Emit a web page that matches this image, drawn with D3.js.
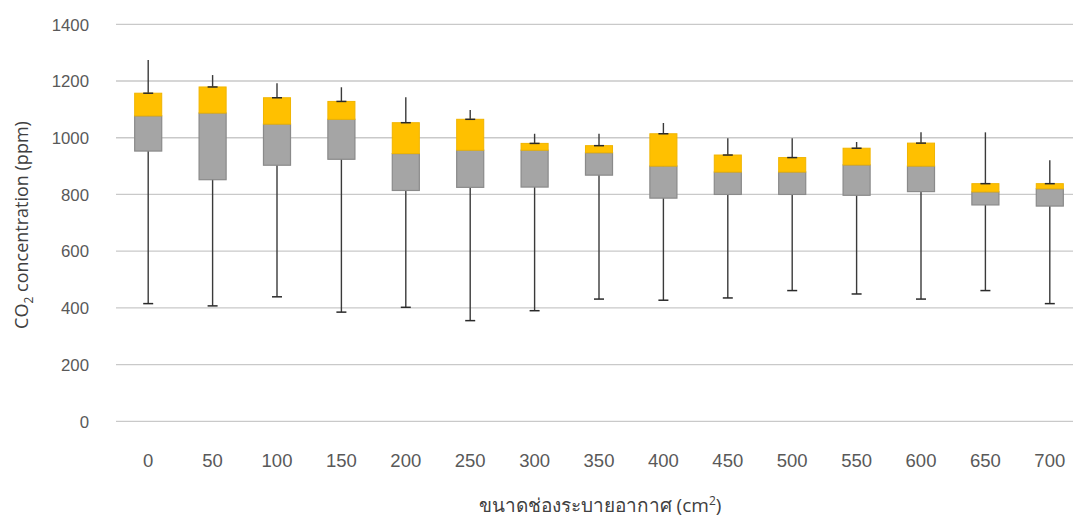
<!DOCTYPE html>
<html><head><meta charset="utf-8">
<script src="https://cdn.jsdelivr.net/npm/d3@7"></script>
<style>body{margin:0;background:#fff}svg{display:block;font-family:"Open Sans","Noto Sans",sans-serif}</style>
</head><body><svg id="c" width="1073" height="520"></svg>
<script>
const categories = ["0","50","100","150","200","250","300","350","400","450","500","550","600","650","700"];
const minVals = [415,407,439,385,402,355,390,431,427,435,461,449,431,461,415];
const q1Vals  = [953,852,903,924,814,825,826,868,787,800,800,797,810,763,759];
const medVals = [1077,1087,1048,1065,944,956,956,947,900,879,879,904,900,809,820];
const q3Vals  = [1157,1179,1141,1128,1053,1065,980,972,1014,939,930,963,981,838,838];
const maxVals = [1274,1221,1192,1178,1143,1098,1014,1014,1052,998,998,985,1019,1019,921];
const yTicks = [0,200,400,600,800,1000,1200,1400];

const svg = d3.select("#c");
const left = 116, bandW = 64.4;
const x = d3.scaleBand().domain(categories).range([left, left + bandW*categories.length]).paddingInner(0.58).paddingOuter(0.29);
const y = d3.scaleLinear().domain([0,1400]).range([421.3, 24.3]);

svg.append("g").selectAll("line").data(yTicks).join("line")
  .attr("x1", left).attr("x2", 1073)
  .attr("y1", d=>y(d)).attr("y2", d=>y(d))
  .attr("stroke", "#c9c9c9").attr("stroke-width", 1.3);

const yAxis = d3.axisLeft(y).tickValues(yTicks).tickFormat(d3.format("d")).tickSize(0).tickPadding(0);
const yg = svg.append("g").attr("transform", "translate(89,0)").call(yAxis);
yg.select(".domain").remove();
yg.selectAll("text").attr("fill", "#595959").style("font-size", "16.8px").attr("dy", "0.34em");

const xAxis = d3.axisBottom(x).tickSize(0).tickPadding(0);
const xg = svg.append("g").attr("transform", "translate(0,461)").call(xAxis);
xg.select(".domain").remove();
xg.selectAll("text").attr("fill", "#595959").style("font-size", "18.5px").attr("dy", "0.34em");

const data = categories.map((c,i)=>({c, min:minVals[i], q1:q1Vals[i], med:medVals[i], q3:q3Vals[i], max:maxVals[i]}));
const bw = x.bandwidth();
const cx = d => x(d.c) + bw/2;

const g = svg.append("g");
g.selectAll(".wh").data(data).join("line").attr("class","wh")
  .attr("x1", cx).attr("x2", cx).attr("y1", d=>y(d.min)).attr("y2", d=>y(d.max))
  .attr("stroke", "#3a3a3a").attr("stroke-width", 1.4);
g.selectAll(".lo").data(data).join("rect").attr("class","lo")
  .attr("x", d=>x(d.c)).attr("width", bw)
  .attr("y", d=>y(d.med)).attr("height", d=>y(d.q1)-y(d.med))
  .attr("fill", "#a5a5a5").attr("stroke", "#8a8a8a").attr("stroke-width", 1.2);
g.selectAll(".hi").data(data).join("rect").attr("class","hi")
  .attr("x", d=>x(d.c)).attr("width", bw)
  .attr("y", d=>y(d.q3)).attr("height", d=>y(d.med)-y(d.q3))
  .attr("fill", "#ffc000").attr("stroke", "#f0b400").attr("stroke-width", 1);
const capW = 10;
["q3","min"].forEach(k=>{
  g.selectAll(".cap"+k).data(data).join("line").attr("class","cap"+k)
    .attr("x1", d=>cx(d)-capW/2).attr("x2", d=>cx(d)+capW/2)
    .attr("y1", d=>y(d[k])).attr("y2", d=>y(d[k]))
    .attr("stroke", "#2a2a2a").attr("stroke-width", 1.5);
});

const yt = svg.append("text").attr("transform", "translate(28,225) rotate(-90)")
  .attr("text-anchor", "middle").attr("fill", "#404040").style("font-size", "18px");
yt.append("tspan").text("CO");
yt.append("tspan").text("2").attr("dy", "5").style("font-size", "12px");
yt.append("tspan").text(" concentration (ppm)").attr("dy", "-5");

const xt = svg.append("text").attr("x", 600).attr("y", 512)
  .attr("text-anchor", "middle").attr("fill", "#404040").style("font-size", "19px");
xt.append("tspan").text("ขนาดช่องระบายอากาศ (cm");
xt.append("tspan").text("2").attr("dy", "-7").style("font-size", "12px");
xt.append("tspan").text(")").attr("dy", "7");
</script></body></html>
